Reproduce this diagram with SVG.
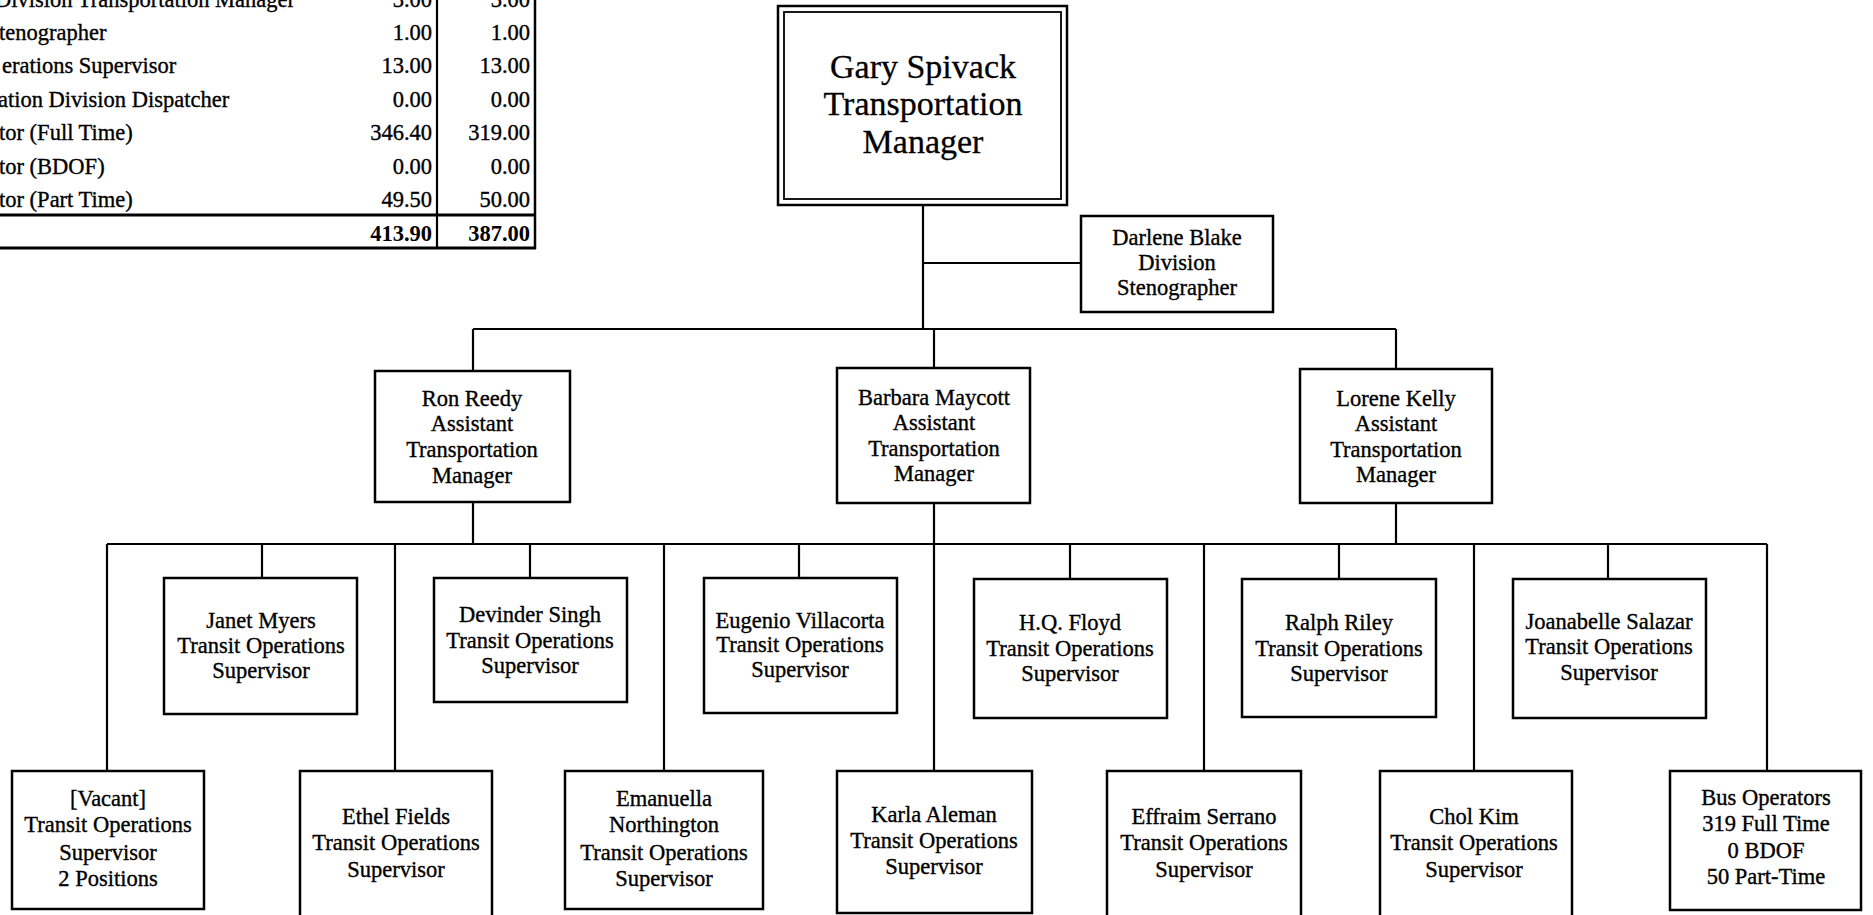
<svg xmlns="http://www.w3.org/2000/svg" width="1873" height="915" viewBox="0 0 1873 915">
<style>
  text { font-family: "Liberation Serif", "Times New Roman", serif; fill: #000; stroke: #000; stroke-width: 0.35; }
  .t { font-size: 22.5px; text-anchor: middle; }
  .big { font-size: 34px; text-anchor: middle; stroke-width: 0.3; }
  .tab { font-size: 22.5px; }
  .num { font-size: 22.5px; text-anchor: end; }
  .b { font-weight: bold; stroke-width: 0; }
  .box { fill: #fff; stroke: #000; stroke-width: 2.5; }
  .ln { stroke: #000; stroke-width: 2.2; fill: none; }
  .tl { stroke: #000; fill: none; }
</style>
<rect x="0" y="0" width="1873" height="915" fill="#fff"/>

<g id="fte-table">
  <line class="tl" x1="437" y1="0" x2="437" y2="249" stroke-width="2.2"/>
  <line class="tl" x1="535" y1="0" x2="535" y2="249" stroke-width="2.5"/>
  <line class="tl" x1="0" y1="215" x2="536" y2="215" stroke-width="3.2"/>
  <line class="tl" x1="0" y1="248" x2="536" y2="248" stroke-width="2.8"/>
  <text class="tab" x="-5" y="7">Division Transportation Manager</text>
  <text class="tab" x="-1" y="40">tenographer</text>
  <text class="tab" x="2" y="73">erations Supervisor</text>
  <text class="tab" x="-2" y="107">ation Division Dispatcher</text>
  <text class="tab" x="-1" y="140">tor (Full Time)</text>
  <text class="tab" x="-1" y="174">tor (BDOF)</text>
  <text class="tab" x="-1" y="207">tor (Part Time)</text>
  <text class="num" x="432" y="7">3.00</text><text class="num" x="530" y="7">3.00</text>
  <text class="num" x="432" y="40">1.00</text><text class="num" x="530" y="40">1.00</text>
  <text class="num" x="432" y="73">13.00</text><text class="num" x="530" y="73">13.00</text>
  <text class="num" x="432" y="107">0.00</text><text class="num" x="530" y="107">0.00</text>
  <text class="num" x="432" y="140">346.40</text><text class="num" x="530" y="140">319.00</text>
  <text class="num" x="432" y="174">0.00</text><text class="num" x="530" y="174">0.00</text>
  <text class="num" x="432" y="207">49.50</text><text class="num" x="530" y="207">50.00</text>
  <text class="num b" x="432" y="241">413.90</text><text class="num b" x="530" y="241">387.00</text>
</g>

<g id="connectors">
  <line class="ln" x1="923" y1="205" x2="923" y2="329"/>
  <line class="ln" x1="923" y1="263" x2="1081" y2="263"/>
  <line class="ln" x1="473" y1="329" x2="1396" y2="329"/>
  <line class="ln" x1="473" y1="329" x2="473" y2="371"/>
  <line class="ln" x1="934" y1="329" x2="934" y2="368"/>
  <line class="ln" x1="1396" y1="329" x2="1396" y2="369"/>
  <line class="ln" x1="107" y1="544" x2="1767" y2="544"/>
  <line class="ln" x1="473" y1="502" x2="473" y2="544"/>
  <line class="ln" x1="934" y1="503" x2="934" y2="771"/>
  <line class="ln" x1="1396" y1="503" x2="1396" y2="544"/>
  <line class="ln" x1="262" y1="544" x2="262" y2="578"/>
  <line class="ln" x1="530" y1="544" x2="530" y2="578"/>
  <line class="ln" x1="799" y1="544" x2="799" y2="578"/>
  <line class="ln" x1="1070" y1="544" x2="1070" y2="579"/>
  <line class="ln" x1="1339" y1="544" x2="1339" y2="579"/>
  <line class="ln" x1="1608" y1="544" x2="1608" y2="579"/>
  <line class="ln" x1="107" y1="544" x2="107" y2="771"/>
  <line class="ln" x1="395" y1="544" x2="395" y2="771"/>
  <line class="ln" x1="664" y1="544" x2="664" y2="771"/>
  <line class="ln" x1="1204" y1="544" x2="1204" y2="771"/>
  <line class="ln" x1="1474" y1="544" x2="1474" y2="771"/>
  <line class="ln" x1="1767" y1="544" x2="1767" y2="771"/>
</g>

<g id="gary-spivack">
  <rect class="box" x="778" y="6" width="289" height="199"/>
  <rect x="784" y="12" width="277" height="187" fill="none" stroke="#000" stroke-width="1.8"/>
  <text class="big" x="923" y="78">Gary Spivack</text>
  <text class="big" x="923" y="115">Transportation</text>
  <text class="big" x="923" y="153">Manager</text>
</g>

<g id="darlene-blake">
  <rect class="box" x="1081" y="216" width="192" height="96"/>
  <text class="t" x="1177" y="245">Darlene Blake</text>
  <text class="t" x="1177" y="270">Division</text>
  <text class="t" x="1177" y="295">Stenographer</text>
</g>

<g id="ron-reedy">
  <rect class="box" x="375" y="371" width="195" height="131"/>
  <text class="t" x="472" y="406">Ron Reedy</text>
  <text class="t" x="472" y="431">Assistant</text>
  <text class="t" x="472" y="457">Transportation</text>
  <text class="t" x="472" y="483">Manager</text>
</g>

<g id="barbara-maycott">
  <rect class="box" x="837" y="368" width="193" height="135"/>
  <text class="t" x="934" y="405">Barbara Maycott</text>
  <text class="t" x="934" y="430">Assistant</text>
  <text class="t" x="934" y="456">Transportation</text>
  <text class="t" x="934" y="481">Manager</text>
</g>

<g id="lorene-kelly">
  <rect class="box" x="1300" y="369" width="192" height="134"/>
  <text class="t" x="1396" y="406">Lorene Kelly</text>
  <text class="t" x="1396" y="431">Assistant</text>
  <text class="t" x="1396" y="457">Transportation</text>
  <text class="t" x="1396" y="482">Manager</text>
</g>

<g id="janet-myers">
  <rect class="box" x="164" y="578" width="193" height="136"/>
  <text class="t" x="261" y="628">Janet Myers</text>
  <text class="t" x="261" y="653">Transit Operations</text>
  <text class="t" x="261" y="678">Supervisor</text>
</g>

<g id="devinder-singh">
  <rect class="box" x="434" y="578" width="193" height="124"/>
  <text class="t" x="530" y="622">Devinder Singh</text>
  <text class="t" x="530" y="648">Transit Operations</text>
  <text class="t" x="530" y="673">Supervisor</text>
</g>

<g id="eugenio-villacorta">
  <rect class="box" x="704" y="578" width="193" height="135"/>
  <text class="t" x="800" y="628">Eugenio Villacorta</text>
  <text class="t" x="800" y="652">Transit Operations</text>
  <text class="t" x="800" y="677">Supervisor</text>
</g>

<g id="hq-floyd">
  <rect class="box" x="974" y="579" width="193" height="139"/>
  <text class="t" x="1070" y="630">H.Q. Floyd</text>
  <text class="t" x="1070" y="656">Transit Operations</text>
  <text class="t" x="1070" y="681">Supervisor</text>
</g>

<g id="ralph-riley">
  <rect class="box" x="1242" y="579" width="194" height="138"/>
  <text class="t" x="1339" y="630">Ralph Riley</text>
  <text class="t" x="1339" y="656">Transit Operations</text>
  <text class="t" x="1339" y="681">Supervisor</text>
</g>

<g id="joanabelle-salazar">
  <rect class="box" x="1513" y="579" width="193" height="139"/>
  <text class="t" x="1609" y="629">Joanabelle Salazar</text>
  <text class="t" x="1609" y="654">Transit Operations</text>
  <text class="t" x="1609" y="680">Supervisor</text>
</g>

<g id="vacant">
  <rect class="box" x="12" y="771" width="192" height="138"/>
  <text class="t" x="108" y="806">[Vacant]</text>
  <text class="t" x="108" y="832">Transit Operations</text>
  <text class="t" x="108" y="860">Supervisor</text>
  <text class="t" x="108" y="886">2 Positions</text>
</g>

<g id="ethel-fields">
  <rect class="box" x="300" y="771" width="192" height="150"/>
  <text class="t" x="396" y="824">Ethel Fields</text>
  <text class="t" x="396" y="850">Transit Operations</text>
  <text class="t" x="396" y="877">Supervisor</text>
</g>

<g id="emanuella-northington">
  <rect class="box" x="565" y="771" width="198" height="138"/>
  <text class="t" x="664" y="806">Emanuella</text>
  <text class="t" x="664" y="832">Northington</text>
  <text class="t" x="664" y="860">Transit Operations</text>
  <text class="t" x="664" y="886">Supervisor</text>
</g>

<g id="karla-aleman">
  <rect class="box" x="837" y="771" width="195" height="142"/>
  <text class="t" x="934" y="822">Karla Aleman</text>
  <text class="t" x="934" y="848">Transit Operations</text>
  <text class="t" x="934" y="874">Supervisor</text>
</g>

<g id="effraim-serrano">
  <rect class="box" x="1107" y="771" width="194" height="150"/>
  <text class="t" x="1204" y="824">Effraim Serrano</text>
  <text class="t" x="1204" y="850">Transit Operations</text>
  <text class="t" x="1204" y="877">Supervisor</text>
</g>

<g id="chol-kim">
  <rect class="box" x="1380" y="771" width="192" height="150"/>
  <text class="t" x="1474" y="824">Chol Kim</text>
  <text class="t" x="1474" y="850">Transit Operations</text>
  <text class="t" x="1474" y="877">Supervisor</text>
</g>

<g id="bus-operators">
  <rect class="box" x="1670" y="771" width="191" height="139"/>
  <text class="t" x="1766" y="805">Bus Operators</text>
  <text class="t" x="1766" y="831">319 Full Time</text>
  <text class="t" x="1766" y="858">0 BDOF</text>
  <text class="t" x="1766" y="884">50 Part-Time</text>
</g>
</svg>
